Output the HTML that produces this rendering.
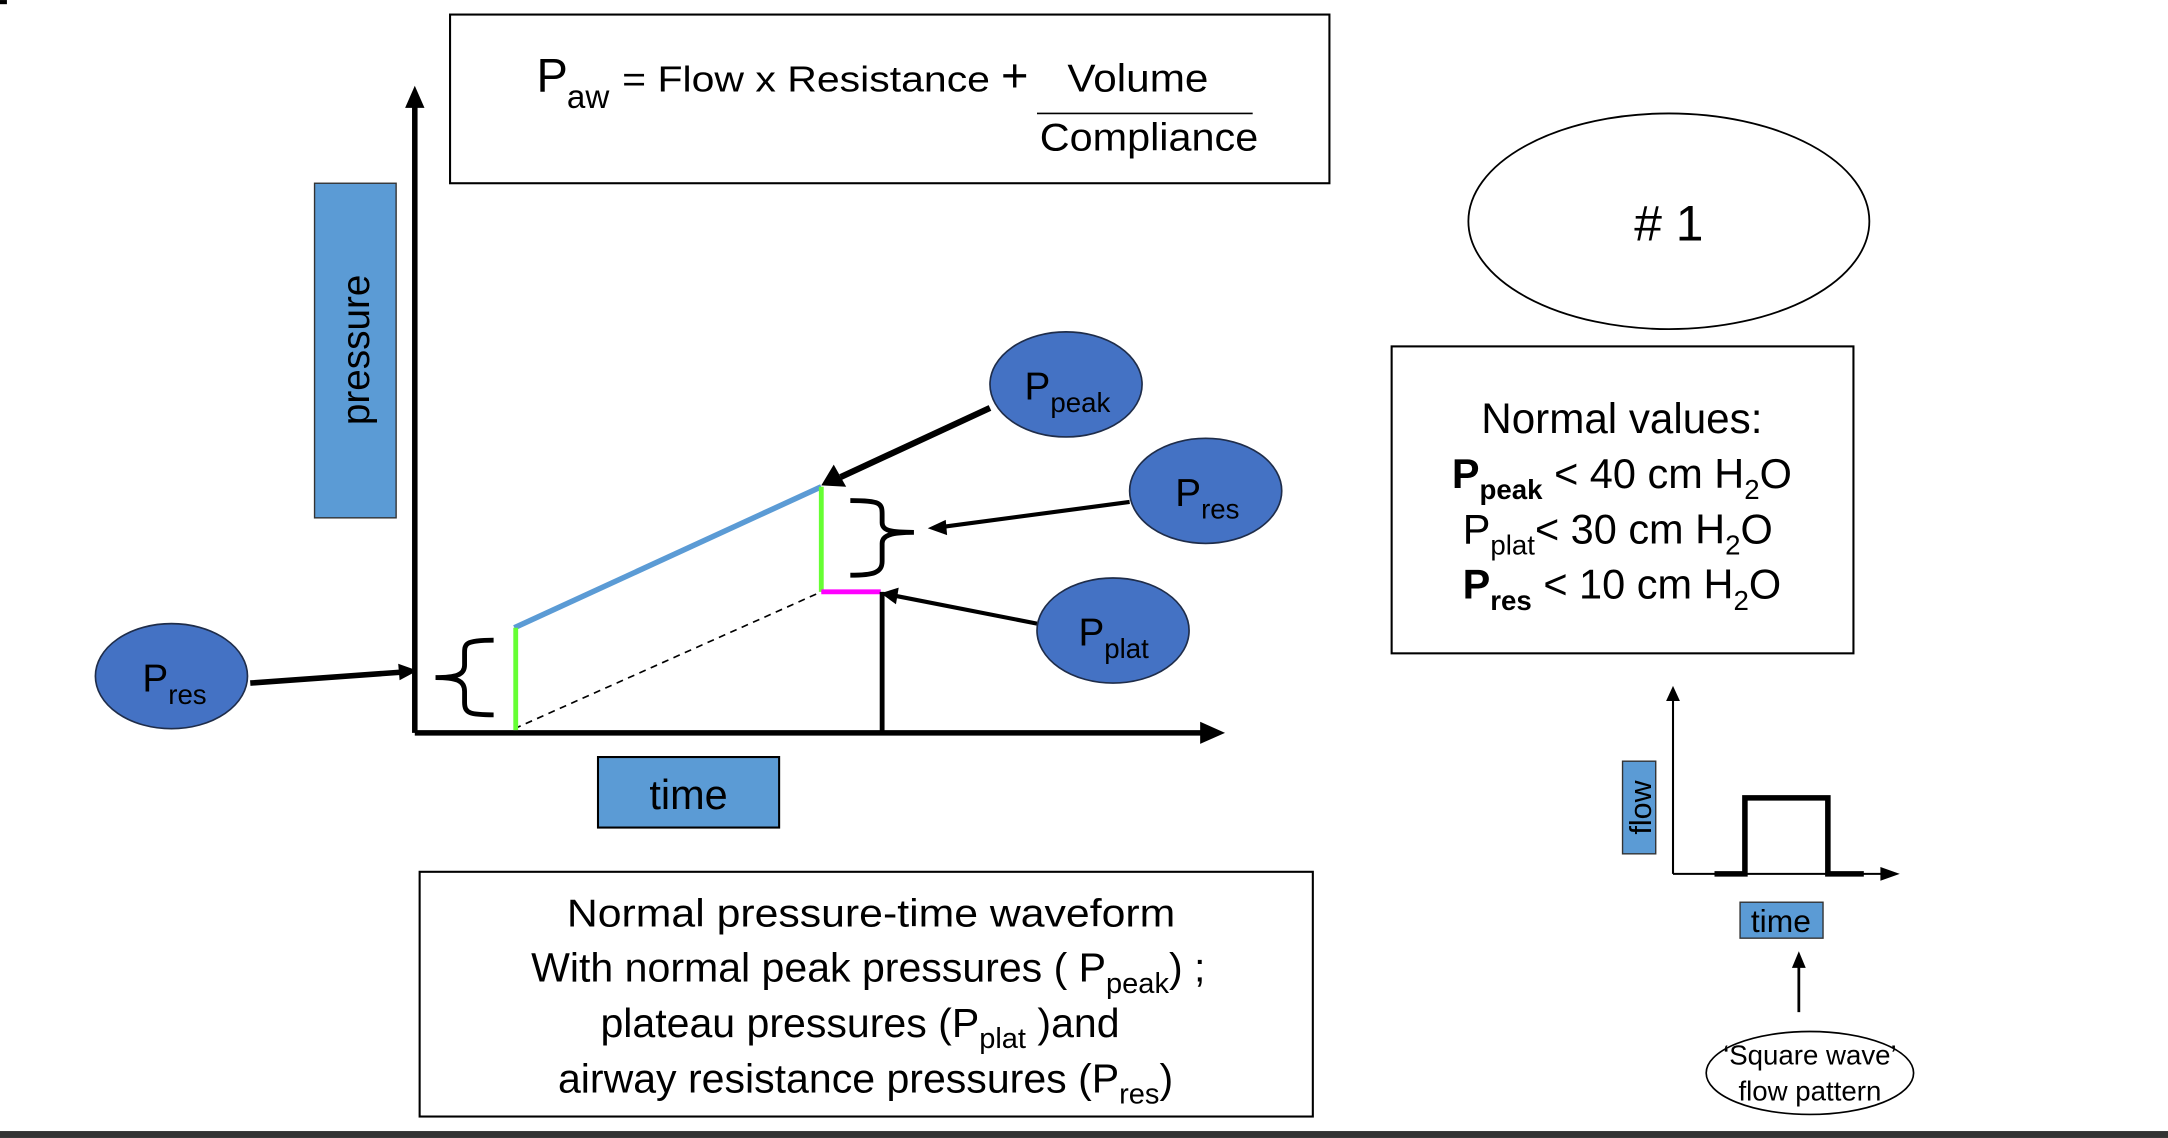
<!DOCTYPE html>
<html><head><meta charset="utf-8"><style>
html,body{margin:0;padding:0;background:#fff;}
svg{display:block;}
text{font-family:"Liberation Sans",sans-serif;fill:#000;}
</style></head><body>
<svg width="2168" height="1138" viewBox="0 0 1568 823" xmlns="http://www.w3.org/2000/svg">
<rect x="0" y="0" width="5" height="3" fill="#000"/>
<!-- formula box -->
<rect x="325.5" y="10.5" width="636" height="122" fill="none" stroke="#000" stroke-width="1.5"/>
<text x="388" y="66" font-size="34">P</text>
<text x="410" y="78" font-size="24">aw</text>
<text x="450" y="66" font-size="26" textLength="266" lengthAdjust="spacingAndGlyphs">= Flow  x Resistance</text>
<text x="724" y="66" font-size="34">+</text>
<text x="772" y="66" font-size="28" textLength="102" lengthAdjust="spacingAndGlyphs">Volume</text>
<line x1="750" y1="82" x2="906" y2="82" stroke="#000" stroke-width="1.2"/>
<text x="752" y="109" font-size="28" textLength="158" lengthAdjust="spacingAndGlyphs">Compliance</text>
<!-- pressure box -->
<rect x="227.5" y="132.5" width="59" height="242" fill="#5b9bd5" stroke="#333" stroke-width="1"/>
<text transform="translate(267,253) rotate(-90)" text-anchor="middle" font-size="28">pressure</text>
<!-- axes -->
<line x1="300" y1="530" x2="300" y2="72" stroke="#000" stroke-width="4"/>
<path d="M293,78 L300,62 L307,78 z" fill="#000"/>
<line x1="300" y1="530" x2="872" y2="530" stroke="#000" stroke-width="4"/>
<path d="M868,522 L886,530 L868,538 z" fill="#000"/>
<!-- time box -->
<rect x="432.5" y="547.5" width="131" height="51" fill="#5b9bd5" stroke="#000" stroke-width="1.5"/>
<text x="498" y="585" text-anchor="middle" font-size="30">time</text>
<!-- waveform -->
<line x1="372" y1="527" x2="594" y2="428" stroke="#000" stroke-width="1.2" stroke-dasharray="5,4"/>
<line x1="372" y1="454" x2="594" y2="352" stroke="#5b9bd5" stroke-width="4"/>
<line x1="373" y1="454" x2="373" y2="528" stroke="#66ff33" stroke-width="3.5"/>
<line x1="594" y1="352" x2="594" y2="428" stroke="#66ff33" stroke-width="3.5"/>
<line x1="594" y1="428" x2="637" y2="428" stroke="#ff00ff" stroke-width="3.5"/>
<line x1="638" y1="428" x2="638" y2="530" stroke="#000" stroke-width="3.5"/>
<!-- braces -->
<path d="M357,463 C335,463 336,466 336,474 L336,481 C336,488 330,490 315,490 C330,490 336,492 336,500 L336,508 C336,516 340,517 357,517" fill="none" stroke="#000" stroke-width="3.5"/>
<path d="M615,362 C637,362 638,364 638,372 L638,378 C638,384 645,385 661,385 C645,385 638,387 638,393 L638,406 C638,414 632,416 615,416" fill="none" stroke="#000" stroke-width="3.5"/>
<!-- arrows -->
<line x1="181" y1="494" x2="292" y2="486" stroke="#000" stroke-width="4"/>
<path d="M288,480 L302,485 L289,492 z" fill="#000"/>
<line x1="716" y1="295" x2="608" y2="345" stroke="#000" stroke-width="4.5"/>
<path d="M603,336 L594,351 L612,352 z" fill="#000"/>
<line x1="817" y1="363" x2="682" y2="381" stroke="#000" stroke-width="3"/>
<path d="M684,376 L671,382 L685,387 z" fill="#000"/>
<line x1="750" y1="451" x2="648" y2="431" stroke="#000" stroke-width="3"/>
<path d="M650,425 L637,429 L648,437 z" fill="#000"/>
<!-- ellipses -->
<g fill="#4472c4" stroke="#1f2d4a" stroke-width="1.2">
<ellipse cx="124" cy="489" rx="55" ry="38"/>
<ellipse cx="771" cy="278" rx="55" ry="38"/>
<ellipse cx="872" cy="355" rx="55" ry="38"/>
<ellipse cx="805" cy="456" rx="55" ry="38"/>
</g>
<text x="103" y="500" font-size="28">P<tspan font-size="20" dy="9">res</tspan></text>
<text x="741" y="289" font-size="28">P<tspan font-size="20" dy="9">peak</tspan></text>
<text x="850" y="366" font-size="28">P<tspan font-size="20" dy="9">res</tspan></text>
<text x="780" y="467" font-size="28">P<tspan font-size="20" dy="9">plat</tspan></text>
<!-- bottom box -->
<rect x="303.5" y="630.5" width="646" height="177" fill="none" stroke="#000" stroke-width="1.5"/>
<g font-size="29.7" text-anchor="middle">
<text x="630" y="670" font-size="28" textLength="440" lengthAdjust="spacingAndGlyphs">Normal pressure-time waveform</text>
<text x="628" y="710">With normal peak pressures ( P<tspan font-size="21" dy="8">peak</tspan><tspan dy="-8">) ;</tspan></text>
<text x="622" y="750">plateau pressures (P<tspan font-size="21" dy="8">plat</tspan><tspan dy="-8"> )and</tspan></text>
<text x="626" y="790">airway resistance pressures (P<tspan font-size="21" dy="8">res</tspan><tspan dy="-8">)</tspan></text>
</g>
<!-- #1 ellipse -->
<ellipse cx="1207" cy="160" rx="145" ry="78" fill="none" stroke="#000" stroke-width="1.3"/>
<text x="1207" y="174" text-anchor="middle" font-size="36"># 1</text>
<!-- normal values -->
<rect x="1006.5" y="250.5" width="334" height="222" fill="none" stroke="#000" stroke-width="1.5"/>
<g font-size="30" text-anchor="middle">
<text x="1173" y="313" font-size="30.5">Normal values:</text>
<text x="1173" y="353"><tspan font-weight="bold">P<tspan font-size="20" dy="8">peak</tspan></tspan><tspan dy="-8">  &lt; 40 cm H</tspan><tspan font-size="20" dy="8">2</tspan><tspan dy="-8">O</tspan></text>
<text x="1170" y="393">P<tspan font-size="20" dy="8">plat</tspan><tspan dy="-8">&lt; 30 cm H</tspan><tspan font-size="20" dy="8">2</tspan><tspan dy="-8">O</tspan></text>
<text x="1173" y="433"><tspan font-weight="bold">P<tspan font-size="20" dy="8">res</tspan></tspan><tspan dy="-8"> &lt; 10 cm H</tspan><tspan font-size="20" dy="8">2</tspan><tspan dy="-8">O</tspan></text>
</g>
<!-- small flow chart -->
<line x1="1210" y1="632" x2="1210" y2="505" stroke="#000" stroke-width="1.5"/>
<path d="M1205,507 L1210,496 L1215,507 z" fill="#000"/>
<line x1="1210" y1="632" x2="1362" y2="632" stroke="#000" stroke-width="1.5"/>
<path d="M1360,627 L1374,632 L1360,637 z" fill="#000"/>
<path d="M1240,632 L1262,632 L1262,577 L1322,577 L1322,632 L1348,632" fill="none" stroke="#000" stroke-width="4"/>
<rect x="1173.5" y="550.5" width="24" height="67" fill="#5b9bd5" stroke="#333" stroke-width="1"/>
<text transform="translate(1194,584) rotate(-90)" text-anchor="middle" font-size="22">flow</text>
<rect x="1258.5" y="652.5" width="60" height="26" fill="#5b9bd5" stroke="#333" stroke-width="1"/>
<text x="1288" y="674" text-anchor="middle" font-size="23">time</text>
<line x1="1301" y1="732" x2="1301" y2="698" stroke="#000" stroke-width="2"/>
<path d="M1296,700 L1301,688 L1306,700 z" fill="#000"/>
<ellipse cx="1309" cy="776" rx="75" ry="30" fill="none" stroke="#000" stroke-width="1.2"/>
<text x="1309" y="770" text-anchor="middle" font-size="20">‘Square wave’</text>
<text x="1309" y="796" text-anchor="middle" font-size="20">flow pattern</text>
<!-- bottom bar -->
<rect x="0" y="818" width="1568" height="5" fill="#333"/>
</svg>
</body></html>
